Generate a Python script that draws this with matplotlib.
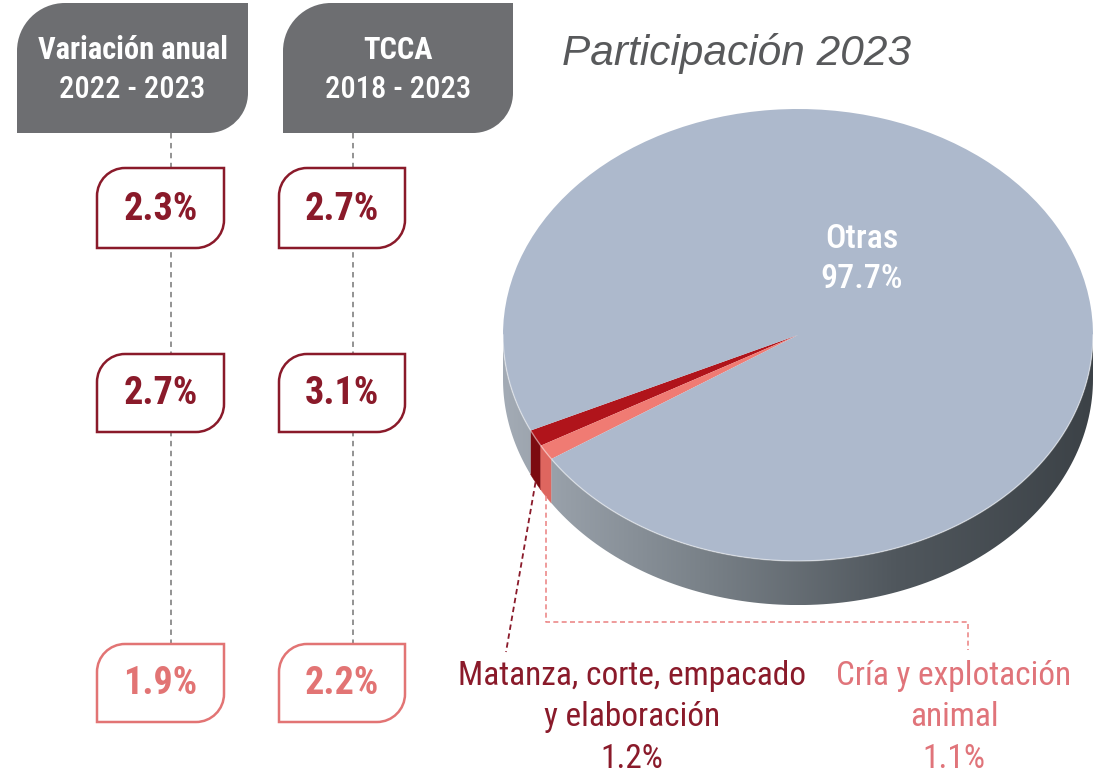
import os
import numpy as np
import matplotlib
matplotlib.use("Agg")
import matplotlib.pyplot as plt
from matplotlib import font_manager as fm
from matplotlib.font_manager import FontProperties
from matplotlib.path import Path
from matplotlib.patches import PathPatch, Polygon
from matplotlib.colors import LinearSegmentedColormap

# ---------------- data ----------------
sector_labels = ["Matanza, corte, empacado\ny elaboración", "Cría y explotación\nanimal", "Otras"]
sector_share = [1.2, 1.1, 97.7]
annual_change = [2.3, 2.7, 1.9]          # Variación anual 2022 - 2023
cagr_change = [2.7, 3.1, 2.2]            # TCCA 2018 - 2023
column_titles = ["Variación anual\n2022 - 2023", "TCCA\n2018 - 2023"]
chart_title = "Participación 2023"

# ---------------- style ----------------
DARK = "#8a1a2a"
LIGHT = "#e27474"
row_colors = [DARK, DARK, LIGHT]
top_colors = ["#b0141b", "#f07b73", "#adb9cc"]
side_colors = ["#7c0b10", "#de665f", None]
HEADER_GRAY = "#6d6e71"

_FONT_PATHS = {}
for _f in [f.fname for f in fm.fontManager.ttflist] + fm.findSystemFonts():
    _FONT_PATHS.setdefault(os.path.basename(_f), _f)


def condensed_font(style):
    """Pick a narrow sans face from the installed fonts, else fall back to Roboto."""
    names = {
        "bold": ["RobotoCondensed-Bold.ttf", "NotoSans-CondensedBold.ttf",
                 "OpenSans-CondensedBold.ttf", "LiberationSansNarrow-Bold.ttf",
                 "DejaVuSansCondensed-Bold.ttf"],
        "medium": ["RobotoCondensed-Medium.ttf", "RobotoCondensed-Regular.ttf",
                   "NotoSans-CondensedMedium.ttf", "NotoSans-Condensed.ttf",
                   "LiberationSansNarrow-Regular.ttf", "DejaVuSansCondensed.ttf"],
        "regular": ["RobotoCondensed-Regular.ttf", "NotoSans-Condensed.ttf",
                    "OpenSans-CondensedRegular.ttf", "LiberationSansNarrow-Regular.ttf",
                    "DejaVuSansCondensed.ttf"],
    }[style]
    for n in names:
        if n in _FONT_PATHS:
            return dict(fname=_FONT_PATHS[n])
    return dict(family="Roboto", weight="bold" if style == "bold" else "normal")


COND_R = condensed_font("regular")
COND_M = condensed_font("medium")
COND_B = condensed_font("bold")


def fp(base, size):
    return FontProperties(size=size, **base)


W, H = 1107, 775
fig = plt.figure(figsize=(W / 100, H / 100), dpi=100)
ax = fig.add_axes([0, 0, 1, 1])
ax.set_xlim(0, W)
ax.set_ylim(H, 0)
ax.axis("off")
ax.set_zorder(3)   # annotations sit above the pie axes


def leaf_path(x0, y0, x1, y1, r_tl, r_br):
    """Box with rounded top-left and bottom-right corners (y grows downward)."""
    k = 0.5523
    verts = [
        (x0, y1),
        (x0, y0 + r_tl),
        (x0, y0 + r_tl * (1 - k)), (x0 + r_tl * (1 - k), y0), (x0 + r_tl, y0),
        (x1, y0),
        (x1, y1 - r_br),
        (x1, y1 - r_br * (1 - k)), (x1 - r_br * (1 - k), y1), (x1 - r_br, y1),
        (x0, y1),
        (x0, y1),
    ]
    codes = [Path.MOVETO, Path.LINETO,
             Path.CURVE4, Path.CURVE4, Path.CURVE4,
             Path.LINETO, Path.LINETO,
             Path.CURVE4, Path.CURVE4, Path.CURVE4,
             Path.LINETO, Path.CLOSEPOLY]
    return Path(verts, codes)


# ---------------- left panel: growth columns ----------------
header_boxes = [(17, 3, 248, 133), (283, 3, 513, 133)]
guide_x = [171, 353]
value_cols = [(97, 224), (279, 405)]
value_rows = [(168, 248), (354, 432), (644, 722)]
col_values = [annual_change, cagr_change]

for (x0, y0, x1, y1), title, gx in zip(header_boxes, column_titles, guide_x):
    ax.add_patch(PathPatch(leaf_path(x0, y0, x1, y1, 48, 40),
                           facecolor=HEADER_GRAY, edgecolor="none", zorder=2))
    l1, l2 = title.split("\n")
    cx = (x0 + x1) / 2
    ax.text(cx, 50, l1, color="white", fontproperties=fp(COND_B, 22),
            ha="center", va="center", zorder=3)
    ax.text(cx, 89, l2, color="white", fontproperties=fp(COND_M, 22),
            ha="center", va="center", zorder=3)
    ax.plot([gx, gx], [y1, value_rows[-1][0]], color="#8a8a8a", lw=1.3,
            dashes=(3, 2.5), zorder=1)

for (x0, x1), vals in zip(value_cols, col_values):
    for (y0, y1), v, c in zip(value_rows, vals, row_colors):
        ax.add_patch(PathPatch(leaf_path(x0, y0, x1, y1, 28, 28),
                               facecolor="white", edgecolor=c, lw=1.8, zorder=2))
        ax.text((x0 + x1) / 2, (y0 + y1) / 2 + 1, f"{v:.1f}%", color=c,
                fontproperties=fp(COND_B, 27.5),
                ha="center", va="center", zorder=3)

# ---------------- right panel: 3D-looking pie ----------------
cx_px, cy_px, rx_px, ry_px = 798, 335, 295, 226
xl, yl = (-1.02, 1.02), (-1.3, 1.05)
depth = 0.195
left = (cx_px + xl[0] * rx_px) / W
width = (xl[1] - xl[0]) * rx_px / W
top_px = cy_px - yl[1] * ry_px
height_px = (yl[1] - yl[0]) * ry_px
axp = fig.add_axes([left, 1 - (top_px + height_px) / H, width, height_px / H])
axp.axis("off")
axp.set_zorder(1)

wedges, _ = axp.pie(sector_share, colors=top_colors, startangle=205,
                    counterclock=True, radius=1,
                    wedgeprops=dict(linewidth=0, zorder=2))
axp.set_aspect("auto")

side_cmap = LinearSegmentedColormap.from_list(
    "side", ["#a3abb5", "#7a8289", "#50575d", "#3c4247"])
grad = np.linspace(0, 1, 256).reshape(1, -1)


def side_polygon(t_lo, t_hi):
    t = np.radians(np.linspace(t_lo, t_hi, 120))
    top = np.column_stack([np.cos(t), np.sin(t)])
    bot = np.column_stack([np.cos(t[::-1]), np.sin(t[::-1]) - depth])
    return np.vstack([top, bot])


for w, sc in zip(wedges, side_colors):
    for k in (0, 1):
        lo = max(w.theta1, 180 + 360 * k)
        hi = min(w.theta2, 360 + 360 * k)
        if hi <= lo:
            continue
        pts = side_polygon(lo, hi)
        if sc is not None:
            axp.add_patch(Polygon(pts, closed=True, facecolor=sc,
                                  edgecolor=sc, lw=0.3, zorder=1))
        else:
            poly = Polygon(pts, closed=True, facecolor="none",
                           edgecolor="none", zorder=1)
            axp.add_patch(poly)
            im = axp.imshow(grad, extent=(-1, 1, -1 - depth, 0.05),
                            cmap=side_cmap, aspect="auto", zorder=1,
                            interpolation="bilinear")
            im.set_clip_path(poly)

# soft highlight along the front rim
t = np.radians(np.linspace(180, 360, 200))
axp.plot(np.cos(t), np.sin(t), color="white", lw=1.0, alpha=0.45, zorder=3)

axp.set_xlim(*xl)
axp.set_ylim(*yl)


def pie_to_main(x, y):
    return ax.transData.inverted().transform(axp.transData.transform((x, y)))


# leader lines from the bottom of each small slice
mids = [np.radians((w.theta1 + w.theta2) / 2) for w in wedges[:2]]
p0 = pie_to_main(np.cos(mids[0]), np.sin(mids[0]) - depth)
ax.plot([p0[0], 506], [p0[1], 652], color=DARK, lw=1.3, dashes=(3, 2), zorder=4)
p1 = pie_to_main(np.cos(mids[1]), np.sin(mids[1]) - depth)
ax.plot([p1[0], p1[0], 968, 968], [p1[1], 622, 622, 650], color="#ec8a8a",
        lw=1.2, dashes=(3, 2), zorder=4)

# slice labels
ax.text(632, 717, f"{sector_labels[0]}\n{sector_share[0]:.1f}%", color=DARK,
        fontproperties=fp(COND_R, 24), ha="center", va="center",
        linespacing=1.38, zorder=4)
ax.text(954, 717, f"{sector_labels[1]}\n{sector_share[1]:.1f}%", color="#e0747a",
        fontproperties=fp(COND_R, 24), ha="center", va="center",
        linespacing=1.38, zorder=4)
ax.text(862, 259, f"{sector_labels[2]}\n{sector_share[2]:.1f}%", color="white",
        fontproperties=fp(COND_M, 24.5), ha="center", va="center",
        linespacing=1.3, zorder=5)

ax.text(737, 53, chart_title, color="#58595b", fontsize=30.5, style="italic",
        family=["Liberation Sans", "DejaVu Sans"], ha="center", va="center")

fig.savefig("out.png", dpi=100, facecolor="white")
